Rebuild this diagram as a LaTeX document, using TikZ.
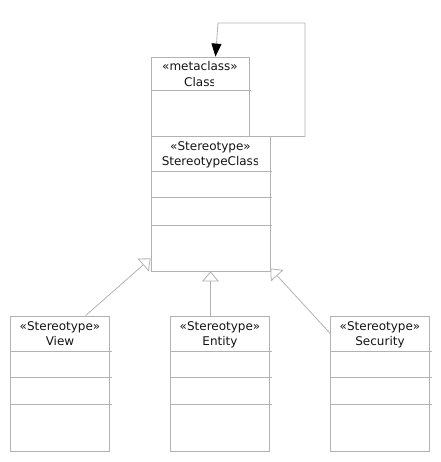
\documentclass[tikz,border=0pt]{standalone}
\usepackage{fontspec}
\setmainfont{DejaVu Sans}
\usetikzlibrary{arrows.meta,calc}
\definecolor{linegray}{RGB}{178,178,178}
\definecolor{textcol}{RGB}{20,20,20}
\begin{document}
\begin{tikzpicture}[x=1pt,y=-1pt,
  classbox/.style={draw=linegray, line width=0.8pt, rectangle, inner sep=0pt, minimum width=98.5pt, minimum height=135pt},
  lbl/.style={font=\fontsize{12}{14}\selectfont, inner sep=0pt, text=textcol, anchor=base},
  divline/.style={draw=linegray, line width=0.8pt},
  gen/.style={draw=linegray, line width=0.8pt, -{Triangle[open,length=10pt,width=17pt,fill=white]}},
  selfarr/.style={draw=linegray, line width=0.8pt, -{Triangle[length=13pt,width=10pt,fill=black,color=black]}}]
\useasboundingbox (0,0) rectangle (440,462);

% Class (metaclass)
\node[classbox, minimum width=98pt, minimum height=79pt] (cls) at (200,96.5) {};
\draw[divline] ($(cls.north west)+(0,34)$) -- ($(cls.north east)+(2,34)$);
\node[lbl] (clsst) at ($(cls.north)+(0,13.7)$) {«metaclass»};
\begin{scope}
  \clip (151,72) rectangle (213,92);
  \node[lbl] (clsname) at ($(cls.north)+(0,30.3)$) {Class};
\end{scope}

% StereotypeClass
\node[classbox, minimum width=119pt] (sc) at (210.5,203.5) {};
\foreach \d in {35.7,62,89.5}
  \draw[divline] ($(sc.north west)+(0,\d)$) -- ($(sc.north east)+(2,\d)$);
\node[lbl] (scst) at ($(sc.north)+(0,14.5)$) {«Stereotype»};
\begin{scope}
  \clip (151,152) rectangle (257,172);
  \node[lbl] (scname) at ($(sc.north)+(0,30.3)$) {StereotypeClass};
\end{scope}

% bottom classes
\foreach \n/\x/\t in {view/60/View, ent/220/Entity, sec/380/Security}{
  \node[classbox] (\n) at (\x,383.5) {};
  \foreach \d in {35.7,62,89}
    \draw[divline] ($(\n.north west)+(0,\d)$) -- ($(\n.north east)+(2,\d)$);
  \node[lbl] (\n st) at ($(\n.north)+(0,14.7)$) {«Stereotype»};
  \node[lbl] (\n name) at ($(\n.north)+(0,30.3)$) {\t};
}

% generalizations
\draw[gen] ([xshift=75.3pt]view.north west) -- ([yshift=13pt]sc.south west);
\draw[gen] (sc.south |- ent.north) -- (sc.south);
\draw[gen] ([yshift=-18pt]sec.north west) -- ([yshift=3pt]sc.south east);

% self association loop
\coordinate (l1) at (305,136.5);
\coordinate (l2) at (305,23);
\coordinate (l3) at (218,23);
\draw[selfarr] (cls.south east) -- (l1) -- (l2) -- (l3) -- ([xshift=15.5pt]cls.north);
\end{tikzpicture}
\end{document}
